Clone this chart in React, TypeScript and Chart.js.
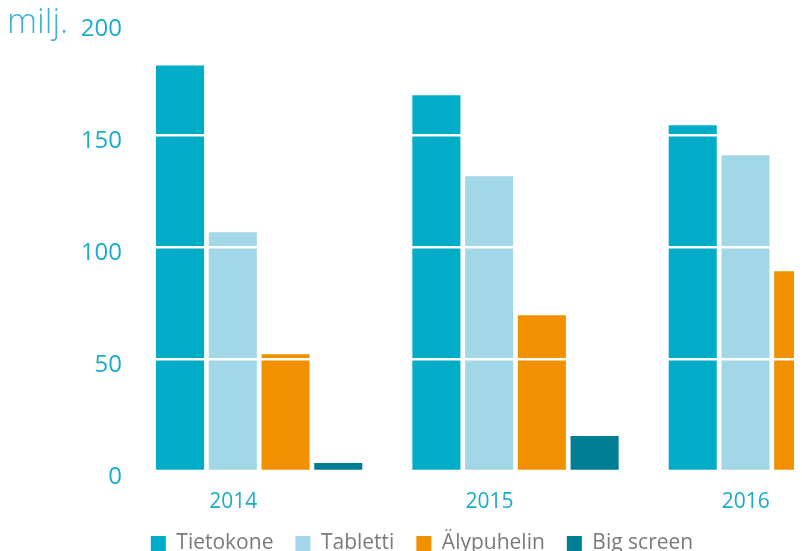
import React, { useEffect, useRef } from 'react';
import { Chart, registerables } from 'chart.js';

Chart.register(...registerables);

const categories = ['2014', '2015', '2016'];
const seriesNames = ['Tietokone', 'Tabletti', 'Älypuhelin', 'Big screen'];
const tietokone = [181.2, 167.9, 154.5];
const tabletti = [106.7, 131.7, 141.1];
const alypuhelin = [52.2, 69.6, 89.3];
const bigScreen = [3.6, 15.6, 25];
const yTicks = [0, 50, 100, 150, 200];
const unitLabel = 'milj.';
const seriesColors = ['#00acc8', '#a1d7e6', '#f29100', '#007e93'];

const FONT = '"Open Sans", "Noto Sans", sans-serif';

const unitPlugin = {
  id: 'unitLabel',
  afterDraw(chart: any) {
    const ctx = chart.ctx;
    ctx.save();
    ctx.font = `300 34px ${FONT}`;
    ctx.fillStyle = '#3cb4d0';
    ctx.textAlign = 'left';
    ctx.textBaseline = 'alphabetic';
    ctx.fillText(unitLabel, 63, 33);
    ctx.restore();
  },
};

export default function App() {
  const ref = useRef<HTMLCanvasElement | null>(null);

  useEffect(() => {
    if (!ref.current) return;
    const values = [tietokone, tabletti, alypuhelin, bigScreen];
    const chart = new Chart(ref.current, {
      type: 'bar',
      data: {
        labels: categories,
        datasets: seriesNames.map((name, i) => ({
          label: name,
          data: values[i],
          backgroundColor: seriesColors[i],
          borderColor: seriesColors[i],
          borderWidth: 0,
          categoryPercentage: 0.823,
          barPercentage: 0.911,
        })),
      },
      options: {
        animation: false,
        responsive: false,
        maintainAspectRatio: false,
        layout: { padding: { top: 21, left: 0, right: 0, bottom: 0 } },
        plugins: {
          tooltip: { enabled: false },
          title: { display: false },
          legend: {
            display: true,
            position: 'bottom',
            labels: {
              boxWidth: 15,
              boxHeight: 15,
              padding: 22,
              color: '#7a7a7a',
              font: { family: FONT, size: 21 },
            },
          },
        },
        scales: {
          x: {
            grid: { display: false, drawTicks: false },
            border: { display: false },
            ticks: {
              color: '#1aaccb',
              font: { family: FONT, size: 21 },
              padding: 18,
              labelOffset: -26,
            },
            afterFit: (scale: any) => {
              scale.height = 40;
            },
          },
          y: {
            min: 0,
            max: 200,
            afterBuildTicks: (scale: any) => {
              scale.ticks = yTicks.map((v) => ({ value: v }));
            },
            afterFit: (scale: any) => {
              scale.width = 187;
            },
            grid: {
              z: 1,
              drawTicks: false,
              lineWidth: 2.5,
              color: (ctx: any) =>
                ctx.tick && (ctx.tick.value === 0 || ctx.tick.value === 200)
                  ? 'rgba(255,255,255,0)'
                  : '#ffffff',
            },
            border: { display: false },
            ticks: {
              color: '#1aaccb',
              font: { family: FONT, size: 24 },
              padding: 9,
              labelOffset: 6,
            },
          },
        },
      },
      plugins: [unitPlugin],
    } as any);
    return () => chart.destroy();
  }, []);

  return (
    <div
      style={{
        position: 'relative',
        width: 802,
        height: 551,
        overflow: 'hidden',
        marginLeft: -8,
        marginTop: -8,
        background: '#ffffff',
      }}
    >
      <canvas
        ref={ref}
        width={956}
        height={564}
        style={{ position: 'absolute', left: -56, top: 0, width: 956, height: 564 }}
      />
    </div>
  );
}
